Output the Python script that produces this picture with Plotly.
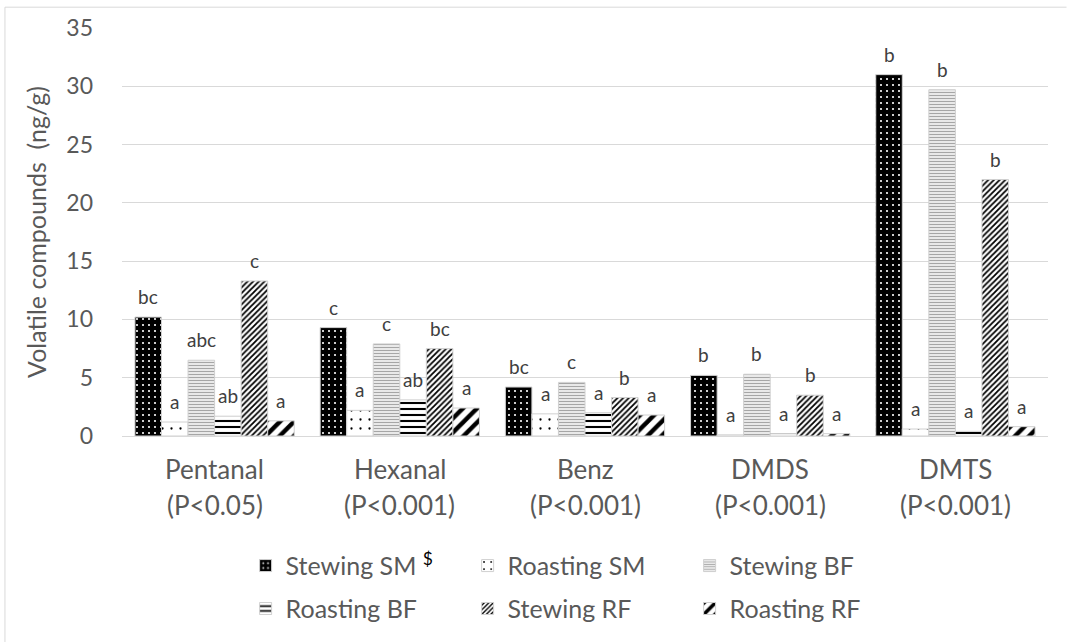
import plotly.graph_objects as go

categories = ["Pentanal", "Hexanal", "Benz", "DMDS", "DMTS"]
pvalues = ["(P<0.05)", "(P<0.001)", "(P<0.001)", "(P<0.001)", "(P<0.001)"]

series_names = ["Stewing SM <sup><span style='color:black'>$</span></sup>", "Roasting SM", "Stewing BF",
                "Roasting BF", "Stewing RF", "Roasting RF"]

stewing_sm = [10.2, 9.3, 4.2, 5.2, 31.0]
roasting_sm = [1.2, 2.2, 1.9, 0.1, 0.6]
stewing_bf = [6.5, 7.9, 4.6, 5.3, 29.7]
roasting_bf = [1.7, 3.1, 2.0, 0.2, 0.4]
stewing_rf = [13.3, 7.5, 3.3, 3.5, 22.0]
roasting_rf = [1.3, 2.4, 1.8, 0.2, 0.8]

letters_stewing_sm = ["bc", "c", "bc", "b", "b"]
letters_roasting_sm = ["a", "a", "a", "a", "a"]
letters_stewing_bf = ["abc", "c", "c", "b", "b"]
letters_roasting_bf = ["ab", "ab", "a", "a", "a"]
letters_stewing_rf = ["c", "bc", "b", "b", "b"]
letters_roasting_rf = ["a", "a", "a", "a", "a"]

y_ticks = [0, 5, 10, 15, 20, 25, 30, 35]

values = [stewing_sm, roasting_sm, stewing_bf, roasting_bf, stewing_rf, roasting_rf]
letters = [letters_stewing_sm, letters_roasting_sm, letters_stewing_bf,
           letters_roasting_bf, letters_stewing_rf, letters_roasting_rf]

patterns = [
    dict(shape=".", fgcolor="white", bgcolor="black", size=6, solidity=0.1, fillmode="replace"),
    dict(shape=".", fgcolor="black", bgcolor="white", size=9, solidity=0.05, fillmode="replace"),
    dict(shape="-", fgcolor="#a6a6a6", bgcolor="white", size=3, solidity=0.5, fillmode="replace"),
    dict(shape="-", fgcolor="black", bgcolor="white", size=6, solidity=0.35, fillmode="replace"),
    dict(shape="/", fgcolor="black", bgcolor="white", size=4, solidity=0.45, fillmode="replace"),
    dict(shape="/", fgcolor="black", bgcolor="white", size=10, solidity=0.45, fillmode="replace"),
]

FONT = "Lato, 'Open Sans', sans-serif"
GREY = "#595959"
BARGAP = 0.14
n_series = len(values)
bar_w = (1 - BARGAP) / n_series

fig = go.Figure()
for i, (name, vals, pat) in enumerate(zip(series_names, values, patterns)):
    fig.add_trace(go.Bar(
        name=name,
        x=categories,
        y=vals,
        marker=dict(color="white", pattern=pat, line=dict(color="#d0d0d0", width=1)),
        legend="legend" if i < 3 else "legend2",
        hoverinfo="name+y",
    ))

# significance letters above each bar (positions derived from group layout)
for i, (vals, lets) in enumerate(zip(values, letters)):
    offset = (i - (n_series - 1) / 2) * bar_w
    for j, (v, t) in enumerate(zip(vals, lets)):
        fig.add_annotation(x=j + offset, y=v, xref="x", yref="y", text=t,
                           showarrow=False, yanchor="bottom", yshift=7,
                           font=dict(size=19, color="#404040", family=FONT))

# category labels (two lines) below the axis
for j, (cat, p) in enumerate(zip(categories, pvalues)):
    fig.add_annotation(x=j, y=-0.0804, xref="x", yref="paper", text=cat, yanchor="middle",
                       showarrow=False, font=dict(size=26, color=GREY, family=FONT))
    fig.add_annotation(x=j, y=-0.170, xref="x", yref="paper", text=p, yanchor="middle",
                       showarrow=False, font=dict(size=26, color=GREY, family=FONT))

fig.update_layout(
    width=1068, height=642,
    margin=dict(l=122, r=20, t=28, b=205),
    paper_bgcolor="white", plot_bgcolor="white",
    font=dict(family=FONT, color=GREY),
    barmode="group",
    bargap=BARGAP,
    bargroupgap=0,
    legend=dict(orientation="h", x=0.1335, xanchor="left", y=-0.315, yanchor="middle",
                font=dict(size=25, color=GREY, family=FONT),
                entrywidth=177, entrywidthmode="pixels", itemclick=False),
    legend2=dict(orientation="h", x=0.1335, xanchor="left", y=-0.42, yanchor="middle",
                 font=dict(size=25, color=GREY, family=FONT),
                 entrywidth=177, entrywidthmode="pixels", itemclick=False),
    showlegend=True,
)
fig.update_xaxes(showticklabels=False, showline=True, linecolor="#d9d9d9", linewidth=1,
                 ticks="", showgrid=False, range=[-0.5, len(categories) - 0.5])
fig.update_yaxes(range=[0, 35], tickvals=y_ticks, showgrid=True, gridcolor="#d9d9d9",
                 gridwidth=1, zeroline=False, showline=False,
                 tickfont=dict(size=23, color=GREY, family=FONT),
                 ticklabelstandoff=28,
                 title=dict(text="Volatile compounds\u00a0 (ng/g)", standoff=12,
                            font=dict(size=25, color=GREY, family=FONT)))

# light frame around chart area (left and top edges)
fig.add_shape(type="line", xref="paper", yref="paper", x0=-0.1264, x1=1.02, y0=1.051, y1=1.051,
              line=dict(color="#d9d9d9", width=1))
fig.add_shape(type="line", xref="paper", yref="paper", x0=-0.1264, x1=-0.1264, y0=1.051, y1=-0.51,
              line=dict(color="#d9d9d9", width=1))

fig.write_html("out.html", config={"displayModeBar": False},
               post_script="document.body.style.margin='0';")
